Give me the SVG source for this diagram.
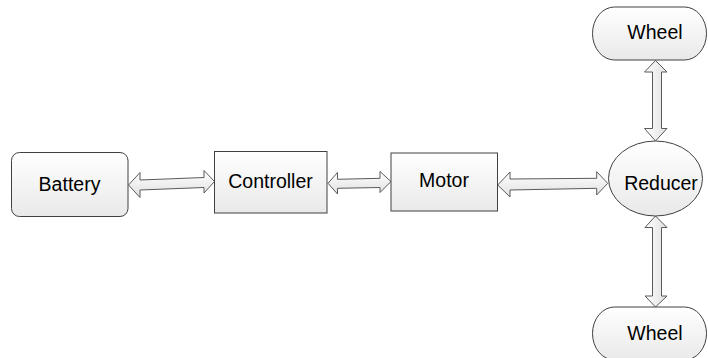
<svg xmlns="http://www.w3.org/2000/svg" width="708" height="358" viewBox="0 0 708 358">
  <defs>
    <linearGradient id="boxFill" x1="0" y1="0" x2="0" y2="1">
      <stop offset="0" stop-color="#ffffff"/>
      <stop offset="1" stop-color="#e9e9e9"/>
    </linearGradient>
    <linearGradient id="arrowFillH" x1="0" y1="0" x2="0" y2="1">
      <stop offset="0" stop-color="#ffffff"/>
      <stop offset="1" stop-color="#e0e0e0"/>
    </linearGradient>
    <linearGradient id="arrowFillV" x1="0" y1="0" x2="1" y2="0">
      <stop offset="0" stop-color="#ffffff"/>
      <stop offset="1" stop-color="#e0e0e0"/>
    </linearGradient>
  </defs>
  <style>
    .node { fill: url(#boxFill); stroke: #404040; stroke-width: 1; }
    .arrow-h { fill: url(#arrowFillH); stroke: #5a5a5a; stroke-width: 1; stroke-linejoin: miter; }
    .arrow-v { fill: url(#arrowFillV); stroke: #5a5a5a; stroke-width: 1; stroke-linejoin: miter; }
    .label { font-family: "Liberation Sans", Arial, sans-serif; font-size: 19.5px; fill: #000000; text-anchor: middle; }
  </style>
  <rect width="708" height="358" fill="#ffffff"/>

  <!-- two-way block arrows between parts of the drivetrain -->
  <g id="connectors">
    <polygon class="arrow-h" points="128.5,185 140,172.5 140,180 204,177.5 204,170.5 214.5,181.5 204,193 204,187.5 140,190 140,197.5"/>
    <polygon class="arrow-h" points="328,183.3 337.5,172.5 337.5,179.3 380,178.3 380,171.5 391,181.5 380,192.5 380,187.5 337.5,188.3 337.5,194"/>
    <polygon class="arrow-h" points="497.7,185 510,172 510,179 596.7,178.3 596.7,171.7 607.7,183.3 596.7,195 596.7,188.3 510,190 510,197"/>
    <polygon class="arrow-v" points="655.5,60.5 667,72 661.5,72 661.5,128.5 667,128.5 655.5,141 644.5,128.5 652.5,128.5 652.5,72 644.5,72"/>
    <polygon class="arrow-v" points="655.5,216 667,227.5 661.5,227.5 661.5,296 667,296 655.5,307 645,296 652.5,296 652.5,227.5 645,227.5"/>
  </g>

  <g id="battery">
    <rect class="node" x="11.5" y="152.5" width="116.5" height="64" rx="8" ry="8"/>
    <text class="label" x="69.5" y="191">Battery</text>
  </g>

  <g id="controller">
    <rect class="node" x="214.5" y="151.5" width="112.5" height="61.5"/>
    <text class="label" x="270.5" y="188">Controller</text>
  </g>

  <g id="motor">
    <rect class="node" x="391" y="153" width="106.5" height="58"/>
    <text class="label" x="444" y="187">Motor</text>
  </g>

  <g id="reducer">
    <ellipse class="node" cx="655.5" cy="178.5" rx="47" ry="37.5"/>
    <text class="label" x="661" y="190">Reducer</text>
  </g>

  <g id="wheel-top">
    <rect class="node" x="592.5" y="7" width="114" height="53" rx="22" ry="26.5"/>
    <text class="label" x="655" y="38.5">Wheel</text>
  </g>

  <g id="wheel-bottom">
    <rect class="node" x="592.5" y="307" width="114" height="53" rx="22" ry="26.5"/>
    <text class="label" x="655" y="340">Wheel</text>
  </g>
</svg>
